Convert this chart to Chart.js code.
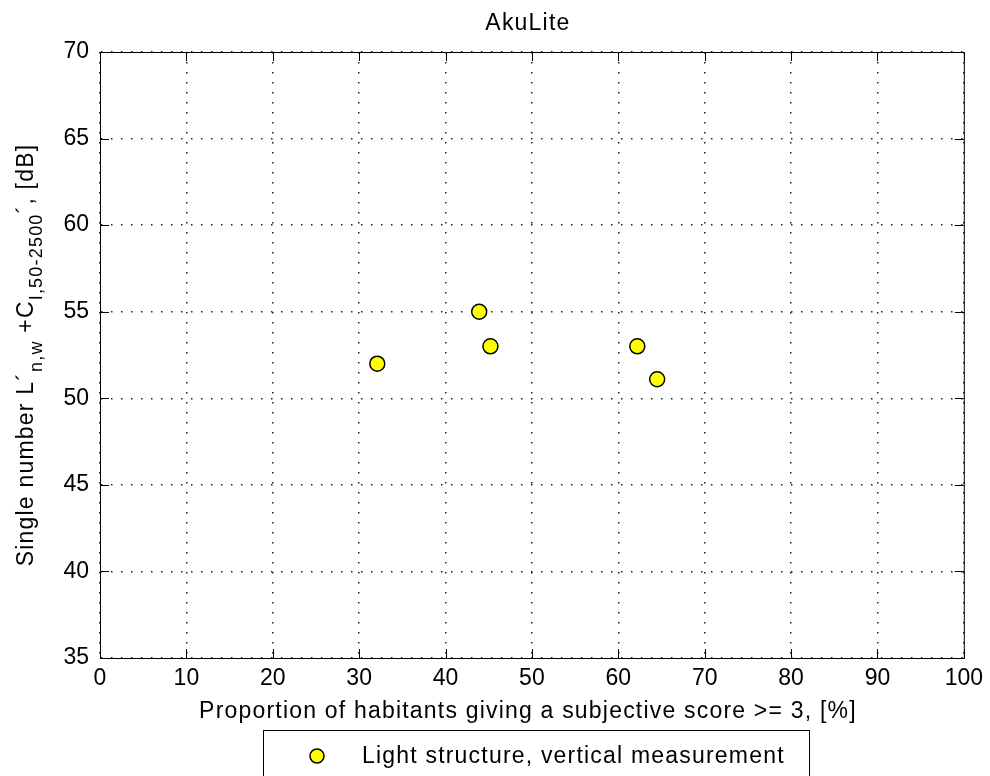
<!DOCTYPE html>
<html>
<head>
<meta charset="utf-8">
<script src="https://cdn.jsdelivr.net/npm/chart.js@4"></script>
<style>
  html, body { margin: 0; padding: 0; background: #fff; }
  #wrap { width: 990px; height: 776px; position: relative; }
</style>
</head>
<body>
<div id="wrap"><canvas id="chart" width="990" height="776"></canvas></div>
<script>
// data
const proportion = [32.1, 43.9, 45.2, 62.2, 64.5];
const singleNumber = [52, 55, 53, 53, 51.1];
const xTicks = [0, 10, 20, 30, 40, 50, 60, 70, 80, 90, 100];
const yTicks = [35, 40, 45, 50, 55, 60, 65, 70];

const seriesLabel = 'Light structure, vertical measurement';
const chartTitle = 'AkuLite';
const xTitle = 'Proportion of habitants giving a subjective score >= 3, [%]';

const FONT = '"Liberation Sans", Arial, sans-serif';
const FS = 23;
const SPACING = '1.2px';

// frame + inward ticks + titles + legend box (matlab style)
const matlabDecor = {
  id: 'matlabDecor',
  afterDraw(chart) {
    const ctx = chart.ctx;
    const a = chart.chartArea;
    const xs = chart.scales.x, ys = chart.scales.y;
    ctx.save();
    ctx.strokeStyle = '#000';
    ctx.lineWidth = 1;
    ctx.strokeRect(a.left + 0.5, a.top + 0.5, a.right - a.left, a.bottom - a.top);
    ctx.beginPath();
    xTicks.forEach(v => {
      const px = Math.round(xs.getPixelForValue(v)) + 0.5;
      ctx.moveTo(px, a.bottom); ctx.lineTo(px, a.bottom - 9);
      ctx.moveTo(px, a.top); ctx.lineTo(px, a.top + 9);
    });
    yTicks.forEach(v => {
      const py = Math.round(ys.getPixelForValue(v)) + 0.5;
      ctx.moveTo(a.left, py); ctx.lineTo(a.left + 9, py);
      ctx.moveTo(a.right, py); ctx.lineTo(a.right - 9, py);
    });
    ctx.stroke();

    const mainFont = FS + 'px ' + FONT;
    const subFont = Math.round(FS * 0.78) + 'px ' + FONT;
    ctx.letterSpacing = SPACING;
    ctx.fillStyle = '#000';
    ctx.font = mainFont;
    ctx.textAlign = 'center';
    ctx.textBaseline = 'alphabetic';
    ctx.fillText(chartTitle, (a.left + a.right) / 2 - 4, 30);
    ctx.fillText(xTitle, (a.left + a.right) / 2 - 4, 718);

    // y title with subscripts, rotated
    const parts = [
      ['Single number L\u00b4', 0],
      ['n,w', 1],
      [' +C', 0],
      ['I,50-2500', 1],
      ['\u00b4, [dB]', 0]
    ];
    let total = 0;
    parts.forEach(p => { ctx.font = p[1] ? subFont : mainFont; total += ctx.measureText(p[0]).width; });
    ctx.translate(33, (a.top + a.bottom) / 2);
    ctx.rotate(-Math.PI / 2);
    ctx.textAlign = 'left';
    let cx = -total / 2;
    parts.forEach(p => {
      ctx.font = p[1] ? subFont : mainFont;
      ctx.fillText(p[0], cx, p[1] ? 9 : 0);
      cx += ctx.measureText(p[0]).width;
    });
    ctx.setTransform(1, 0, 0, 1, 0, 0);

    // legend box (runs off the bottom like the original)
    ctx.lineWidth = 1;
    ctx.strokeRect(263.5, 730.5, 546, 60);
    ctx.beginPath();
    ctx.arc(317, 756, 7, 0, Math.PI * 2);
    ctx.fillStyle = '#ffff00';
    ctx.fill();
    ctx.lineWidth = 1.5;
    ctx.strokeStyle = '#000';
    ctx.stroke();
    ctx.fillStyle = '#000';
    ctx.font = mainFont;
    ctx.textAlign = 'left';
    ctx.fillText(seriesLabel, 362, 763);
    ctx.restore();
  }
};

new Chart(document.getElementById('chart').getContext('2d'), {
  type: 'scatter',
  data: {
    datasets: [{
      label: seriesLabel,
      data: proportion.map((x, i) => ({ x, y: singleNumber[i] })),
      backgroundColor: '#ffff00',
      borderColor: '#000',
      borderWidth: 1.5,
      pointRadius: 7.5,
      pointHoverRadius: 7.5
    }]
  },
  options: {
    responsive: false,
    animation: false,
    layout: { padding: { top: 52, right: 18, bottom: 84, left: 0 } },
    plugins: {
      legend: { display: false },
      title: { display: false },
      tooltip: { enabled: false }
    },
    scales: {
      x: {
        type: 'linear',
        min: 0, max: 100,
        afterFit(s) { s.height = 34; },
        afterBuildTicks(s) { s.ticks = xTicks.map(v => ({ value: v })); },
        grid: { color: '#222', lineWidth: 1.5, drawTicks: false },
        border: { display: true, color: '#000', dash: [1.5, 8.5] },
        ticks: { color: '#000', font: { family: FONT, size: FS }, padding: 7, maxRotation: 0 }
      },
      y: {
        type: 'linear',
        min: 35, max: 70,
        afterFit(s) { s.width = 100; },
        afterBuildTicks(s) { s.ticks = yTicks.map(v => ({ value: v })); },
        grid: { color: '#222', lineWidth: 1.5, drawTicks: false },
        border: { display: true, color: '#000', dash: [1.5, 8.5] },
        ticks: { color: '#000', font: { family: FONT, size: FS }, padding: 11 }
      }
    }
  },
  plugins: [matlabDecor]
});
</script>
</body>
</html>
